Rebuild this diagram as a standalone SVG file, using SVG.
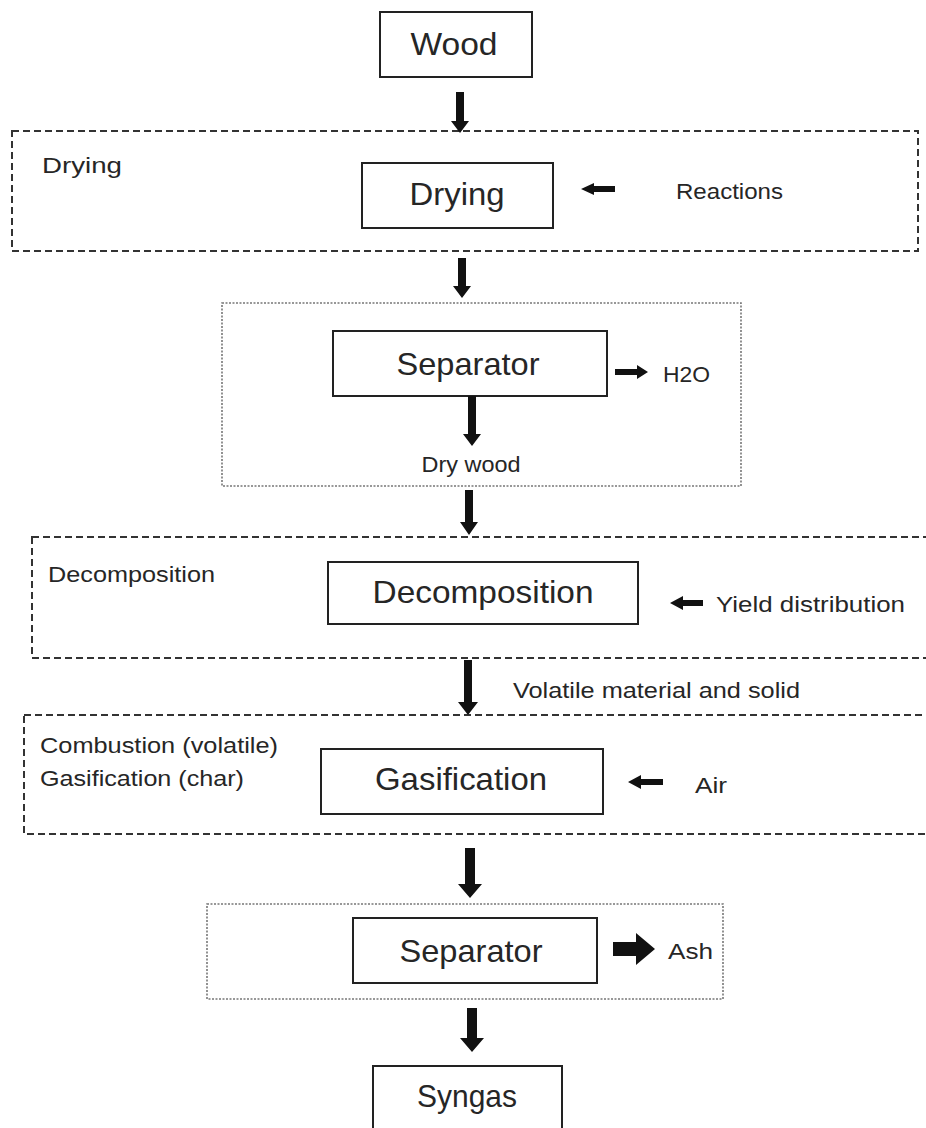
<svg xmlns="http://www.w3.org/2000/svg" width="926" height="1128" viewBox="0 0 926 1128">
<style>
  .box{fill:#fff;stroke:#222;stroke-width:2}
  .dash{fill:none;stroke:#333;stroke-width:2;stroke-dasharray:7 4}
  .dot{fill:none;stroke:#777;stroke-width:1.6;stroke-dasharray:2 1.5}
  .big{font-family:"Liberation Sans",Arial,sans-serif;font-size:32px;fill:#262626;text-anchor:middle}
  .lbl{font-family:"Liberation Sans",Arial,sans-serif;font-size:22px;fill:#262626}
  .arr{fill:#111}
</style>
<rect width="926" height="1128" fill="#fff"/>
<g id="stage-drying"><rect class="dash" x="12" y="131" width="906" height="120"/><text class="lbl" x="42" y="173" textLength="80" lengthAdjust="spacingAndGlyphs">Drying</text></g>
<g id="stage-sep1"><rect class="dot" x="222" y="303" width="519" height="183"/></g>
<g id="stage-decomp"><rect class="dash" x="32" y="537" width="900" height="121"/><text class="lbl" x="48" y="582" textLength="167" lengthAdjust="spacingAndGlyphs">Decomposition</text></g>
<g id="stage-gasif"><rect class="dash" x="24" y="715" width="908" height="119"/><text class="lbl" x="40" y="753" textLength="238" lengthAdjust="spacingAndGlyphs">Combustion (volatile)</text><text class="lbl" x="40" y="786" textLength="204" lengthAdjust="spacingAndGlyphs">Gasification (char)</text></g>
<g id="stage-sep2"><rect class="dot" x="207" y="904" width="516" height="95"/></g>

<g id="wood"><rect class="box" x="380" y="12" width="152" height="65"/><text class="big" x="454" y="55" textLength="87" lengthAdjust="spacingAndGlyphs">Wood</text></g>
<g id="drying"><rect class="box" x="362" y="163" width="191" height="65"/><text class="big" x="457" y="205" textLength="95" lengthAdjust="spacingAndGlyphs">Drying</text></g>
<g id="reactions"><text class="lbl" x="676" y="199" textLength="107" lengthAdjust="spacingAndGlyphs">Reactions</text></g>
<g id="separator1"><rect class="box" x="333" y="331" width="274" height="65"/><text class="big" x="468" y="375" textLength="143" lengthAdjust="spacingAndGlyphs">Separator</text></g>
<g id="h2o"><text class="lbl" x="663" y="382" textLength="47" lengthAdjust="spacingAndGlyphs">H2O</text></g>
<g id="drywood"><text class="lbl" x="471" y="472" text-anchor="middle" textLength="99" lengthAdjust="spacingAndGlyphs">Dry wood</text></g>
<g id="decomposition"><rect class="box" x="328" y="562" width="310" height="62"/><text class="big" x="483" y="603" textLength="221" lengthAdjust="spacingAndGlyphs">Decomposition</text></g>
<g id="yield"><text class="lbl" x="716" y="612" textLength="189" lengthAdjust="spacingAndGlyphs">Yield distribution</text></g>
<g id="volatile"><text class="lbl" x="513" y="698" textLength="287" lengthAdjust="spacingAndGlyphs">Volatile material and solid</text></g>
<g id="gasification"><rect class="box" x="321" y="749" width="282" height="65"/><text class="big" x="461" y="790" textLength="172" lengthAdjust="spacingAndGlyphs">Gasification</text></g>
<g id="air"><text class="lbl" x="695" y="793" textLength="32" lengthAdjust="spacingAndGlyphs">Air</text></g>
<g id="separator2"><rect class="box" x="353" y="918" width="244" height="65"/><text class="big" x="471" y="962" textLength="143" lengthAdjust="spacingAndGlyphs">Separator</text></g>
<g id="ash"><text class="lbl" x="668" y="959" textLength="45" lengthAdjust="spacingAndGlyphs">Ash</text></g>
<g id="syngas"><rect class="box" x="373" y="1066" width="189" height="80"/><text class="big" x="467" y="1107" textLength="100" lengthAdjust="spacingAndGlyphs">Syngas</text></g>

<g id="connectors" class="arr">
  <polygon points="456,92 464,92 464,121 469,121 460,133 451,121 456,121"/>
  <polygon points="458,258 466,258 466,286 471,286 462,298 453,286 458,286"/>
  <polygon points="615,186 594,186 594,183 581,189 594,195 594,192 615,192"/>
  <polygon points="615,369 637,369 637,365 648,372 637,379 637,375 615,375"/>
  <polygon points="468,396 476,396 476,434 481,434 472,446 463,434 468,434"/>
  <polygon points="465,490 473,490 473,522 478,522 469,535 460,522 465,522"/>
  <polygon points="703,600 683,600 683,596 670,603 683,610 683,606 703,606"/>
  <polygon points="464,660 472,660 472,702 478,702 468,715 458,702 464,702"/>
  <polygon points="663,779 641,779 641,775 628,782 641,789 641,785 663,785"/>
  <polygon points="465,848 475,848 475,884 482,884 470,898 458,884 465,884"/>
  <polygon points="613,942 636,942 636,933 655,949 636,965 636,956 613,956"/>
  <polygon points="467,1008 477,1008 477,1038 484,1038 472,1052 460,1038 467,1038"/>
</g>
</svg>
